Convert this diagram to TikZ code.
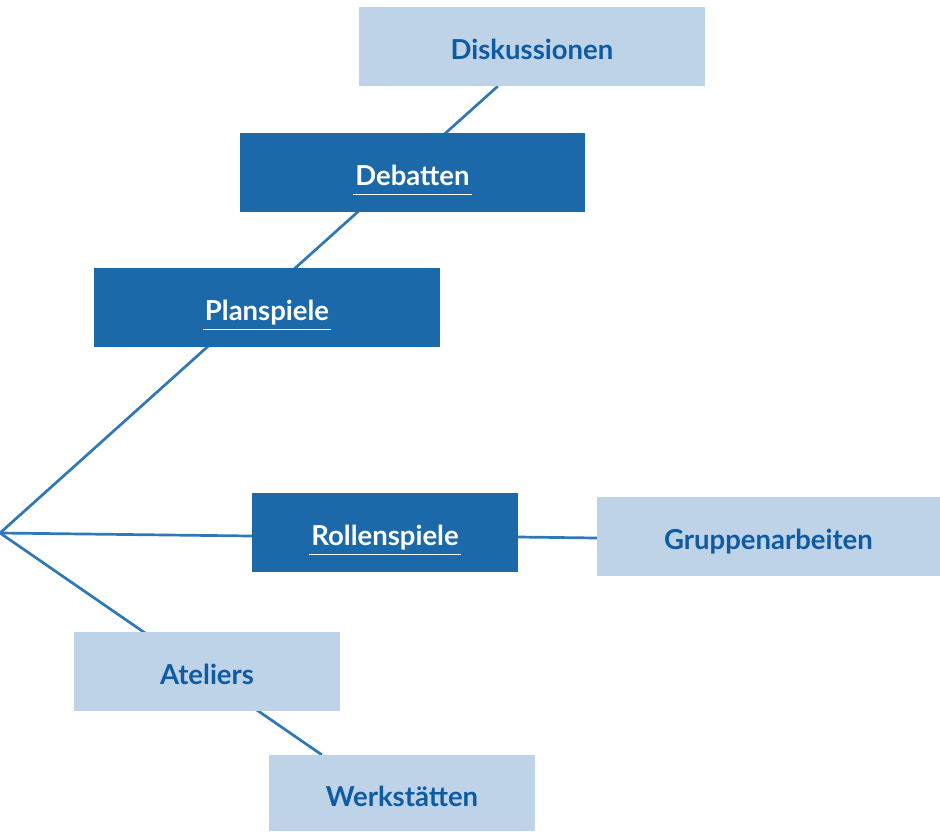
\documentclass[tikz,border=0pt]{standalone}
\usepackage{fontspec}
\setmainfont{Lato}
\usetikzlibrary{calc,positioning,backgrounds}
\definecolor{darkbox}{HTML}{1B69A9}
\definecolor{lightbox}{HTML}{BED3E7}
\definecolor{labelblue}{HTML}{0E5BA3}
\definecolor{linkblue}{HTML}{2F77B5}
\newcommand{\uline}[1]{\leavevmode\setbox0\hbox{#1}%
  \rlap{\kern-2pt\raisebox{-9pt}{\rule{\dimexpr\wd0+4pt\relax}{1.1pt}}}\box0}
\tikzset{
  box/.style={rectangle, inner sep=0pt, minimum height=79pt, text height=26.5pt, text depth=0pt,
    font=\fontsize{27.5}{32}\selectfont\bfseries},
  darkitem/.style={box, fill=darkbox, text=white},
  lightitem/.style={box, fill=lightbox, text=labelblue},
  link/.style={draw=linkblue, line width=2.7pt}
}
\begin{document}
\begin{tikzpicture}[x=1pt,y=-1pt]
  \useasboundingbox (0,0) rectangle (940,831);
  \coordinate (root) at (0,533);
  % boxes
  \node[lightitem, minimum width=346pt] (disk) at (532,46.5) {Diskussionen};
  \node[darkitem, minimum width=345pt] (deb) at (412.5,172.5) {\uline{Debatten}};
  \node[darkitem, minimum width=346pt] (plan) at (267,307.5) {\uline{Planspiele}};
  \node[darkitem, minimum width=266pt] (roll) at (385,532.5) {\uline{Rollenspiele}};
  \node[lightitem, minimum width=343pt] (grup) at (768.5,536.5) {Gruppenarbeiten};
  \node[lightitem, minimum width=266pt] (atel) at (207,671.5) {Ateliers};
  \node[lightitem, minimum width=266pt, minimum height=76pt] (werk) at (402,793) {Werkst\"atten};
  % connectors
  \begin{pgfonlayer}{background}
    \draw[link] (root) -- ($(disk.south west)+(139,0)$);
    \draw[link] (root) -- ($(roll.west)+(0,3.5)$);
    \draw[link] ($(roll.east)+(0,4.5)$) -- ($(grup.west)+(0,1.5)$);
    \draw[link] (root) -- ($(werk.north west)+(53,0)$);
  \end{pgfonlayer}
\end{tikzpicture}
\end{document}
